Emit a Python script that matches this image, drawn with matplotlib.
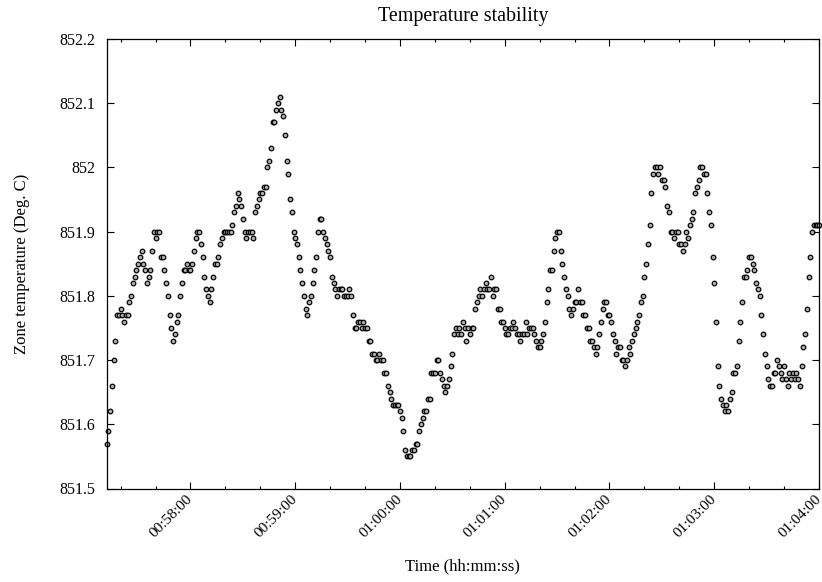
import numpy as np
import pandas as pd
import matplotlib
matplotlib.use("Agg")
import matplotlib.pyplot as plt
import matplotlib.dates as mdates
from matplotlib.ticker import MultipleLocator, FuncFormatter

# sampling: one reading per second, starting at 00:57:12
start_time = "2000-01-01 00:57:12"
step_seconds = 1

# zone temperature readings (Deg. C)
temps = [
    851.57, 851.59, 851.62, 851.66, 851.70, 851.73, 851.77, 851.77, 851.78, 851.77,
    851.76, 851.77, 851.77, 851.79, 851.80, 851.82, 851.83, 851.84, 851.85, 851.86,
    851.87, 851.85, 851.84, 851.82, 851.83, 851.84, 851.87, 851.90, 851.89, 851.90,
    851.90, 851.86, 851.86, 851.84, 851.82, 851.80, 851.77, 851.75, 851.73, 851.74,
    851.76, 851.77, 851.80, 851.82, 851.84, 851.84, 851.85, 851.84, 851.84, 851.85,
    851.87, 851.89, 851.90, 851.90, 851.88, 851.86, 851.83, 851.81, 851.80, 851.79,
    851.81, 851.83, 851.85, 851.85, 851.86, 851.88, 851.89, 851.90, 851.90, 851.90,
    851.90, 851.90, 851.91, 851.93, 851.94, 851.96, 851.95, 851.94, 851.92, 851.90,
    851.89, 851.90, 851.90, 851.90, 851.89, 851.93, 851.94, 851.95, 851.96, 851.96,
    851.97, 851.97, 852.00, 852.01, 852.03, 852.07, 852.07, 852.09, 852.10, 852.11,
    852.09, 852.08, 852.05, 852.01, 851.99, 851.95, 851.93, 851.90, 851.89, 851.88,
    851.86, 851.84, 851.82, 851.80, 851.78, 851.77, 851.79, 851.80, 851.82, 851.84,
    851.86, 851.90, 851.92, 851.92, 851.90, 851.89, 851.88, 851.87, 851.86, 851.83,
    851.82, 851.81, 851.80, 851.81, 851.81, 851.81, 851.80, 851.80, 851.80, 851.81,
    851.80, 851.77, 851.75, 851.75, 851.76, 851.76, 851.75, 851.76, 851.75, 851.75,
    851.73, 851.73, 851.71, 851.71, 851.70, 851.70, 851.71, 851.70, 851.70, 851.68,
    851.68, 851.66, 851.65, 851.64, 851.63, 851.63, 851.63, 851.63, 851.62, 851.61,
    851.59, 851.56, 851.55, 851.55, 851.55, 851.56, 851.56, 851.57, 851.57, 851.59,
    851.60, 851.61, 851.62, 851.62, 851.64, 851.64, 851.68, 851.68, 851.68, 851.70,
    851.70, 851.68, 851.67, 851.66, 851.65, 851.66, 851.67, 851.69, 851.71, 851.74,
    851.75, 851.74, 851.75, 851.74, 851.76, 851.75, 851.73, 851.75, 851.74, 851.75,
    851.75, 851.78, 851.79, 851.80, 851.81, 851.80, 851.81, 851.82, 851.81, 851.81,
    851.83, 851.80, 851.81, 851.81, 851.78, 851.78, 851.76, 851.76, 851.75, 851.74,
    851.74, 851.75, 851.75, 851.76, 851.75, 851.74, 851.74, 851.73, 851.74, 851.74,
    851.76, 851.74, 851.75, 851.75, 851.75, 851.74, 851.73, 851.72, 851.72, 851.73,
    851.74, 851.76, 851.79, 851.81, 851.84, 851.84, 851.87, 851.89, 851.90, 851.90,
    851.87, 851.85, 851.83, 851.81, 851.80, 851.78, 851.77, 851.78, 851.79, 851.79,
    851.81, 851.79, 851.79, 851.77, 851.77, 851.75, 851.75, 851.73, 851.73, 851.72,
    851.71, 851.72, 851.74, 851.76, 851.78, 851.79, 851.79, 851.77, 851.77, 851.76,
    851.74, 851.73, 851.71, 851.72, 851.72, 851.70, 851.70, 851.69, 851.70, 851.72,
    851.71, 851.73, 851.74, 851.75, 851.76, 851.77, 851.79, 851.80, 851.83, 851.85,
    851.88, 851.91, 851.96, 851.99, 852.00, 852.00, 851.99, 852.00, 851.98, 851.98,
    851.97, 851.94, 851.93, 851.90, 851.90, 851.89, 851.90, 851.90, 851.88, 851.88,
    851.87, 851.88, 851.90, 851.89, 851.91, 851.92, 851.93, 851.96, 851.97, 851.98,
    852.00, 852.00, 851.99, 851.99, 851.96, 851.93, 851.91, 851.86, 851.82, 851.76,
    851.69, 851.66, 851.64, 851.63, 851.62, 851.63, 851.62, 851.64, 851.65, 851.68,
    851.68, 851.69, 851.73, 851.76, 851.79, 851.83, 851.83, 851.84, 851.86, 851.86,
    851.85, 851.84, 851.82, 851.81, 851.80, 851.77, 851.74, 851.71, 851.69, 851.67,
    851.66, 851.66, 851.68, 851.68, 851.70, 851.69, 851.68, 851.67, 851.69, 851.67,
    851.66, 851.68, 851.67, 851.68, 851.67, 851.68, 851.67, 851.66, 851.69, 851.72,
    851.74, 851.78, 851.83, 851.86, 851.90, 851.91, 851.91, 851.91, 851.91,
]

times = pd.date_range(start_time, periods=len(temps), freq=f"{step_seconds}s")

plt.rcParams['font.family'] = ['Liberation Serif', 'DejaVu Serif']
plt.rcParams['font.size'] = 12

fig = plt.figure(figsize=(8.22, 5.82), dpi=100)
ax = fig.add_axes([106.7 / 822, 1 - 488.5 / 582, 712.3 / 822, 449.6 / 582])

ax.plot(times, temps, linestyle='none', marker='o', ms=3.3, mfc='#b0b0b0',
        mec='black', mew=0.9, clip_on=False)

ax.set_xlim(times[0], times[-1])
ax.set_ylim(851.5, 852.2)

ax.xaxis.set_major_locator(mdates.MinuteLocator())
ax.xaxis.set_minor_locator(mdates.SecondLocator(bysecond=[20, 40]))
ax.xaxis.set_major_formatter(mdates.DateFormatter('%H:%M:%S'))
ax.yaxis.set_major_locator(MultipleLocator(0.1))
ax.yaxis.set_major_formatter(FuncFormatter(lambda v, p: f"{v:g}"))

ax.tick_params(which='both', direction='in', top=True, right=True, width=0.8)
ax.tick_params(which='major', length=5)
ax.tick_params(which='minor', length=2.5)
ax.tick_params(axis='y', pad=8, labelsize=11.5)
ax.tick_params(axis='x', pad=6, labelsize=11)
for lbl in ax.get_xticklabels():
    lbl.set_rotation(45)
    lbl.set_rotation_mode('anchor')
    lbl.set_ha('right')
    lbl.set_va('center')

for s in ax.spines.values():
    s.set_linewidth(0.9)

ax.set_title('Temperature stability', pad=13)
ax.set_xlabel('Time (hh:mm:ss)')
ax.set_ylabel('Zone temperature (Deg. C)')
ax.xaxis.set_label_coords(0.5, -0.155)
ax.yaxis.set_label_coords(-0.108, 0.5)

fig.savefig('out.png', dpi=100)
